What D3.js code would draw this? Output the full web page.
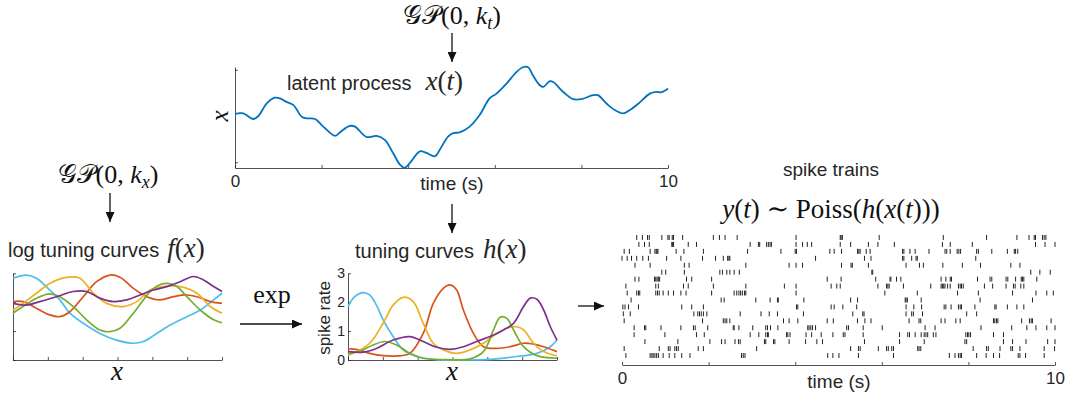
<!DOCTYPE html>
<html>
<head>
<meta charset="utf-8">
<script src="https://cdn.jsdelivr.net/npm/d3@7"></script>
<style>
body { margin: 0; background: #fff; }
svg text { font-family: "Liberation Sans", Arial, sans-serif; fill: #262626; }
svg text.math { font-family: "Liberation Serif", "DejaVu Serif", serif; fill: #111; }
.axis path, .axis line { stroke: #262626; stroke-width: 0.8; }
.axis text { font-family: "Liberation Sans", Arial, sans-serif; fill: #262626; }
</style>
</head>
<body>
<svg id="root" width="1068" height="393"></svg>
<script>
// latent process x(t)
const latentTime = [0,0.19,0.42,0.54,0.73,0.92,1.04,1.19,1.35,1.54,1.65,1.85,2.04,2.31,2.42,2.65,2.77,3.04,3.27,3.46,3.65,3.81,3.92,4.04,4.27,4.42,4.62,4.73,4.92,5.04,5.19,5.42,5.65,5.88,6.04,6.27,6.5,6.65,6.77,6.88,7.04,7.12,7.27,7.35,7.58,7.81,8.0,8.27,8.38,8.58,8.77,8.96,9.12,9.35,9.58,9.73,9.85,10];
const latentValue = [0.09,0.11,-0.13,0,0.54,0.79,0.76,0.61,0.47,-0.03,-0.10,-0.13,-0.46,-0.86,-0.71,-0.43,-0.46,-0.91,-0.86,-1.03,-1.6,-2.1,-2.24,-2.03,-1.53,-1.6,-1.74,-1.46,-0.89,-0.74,-0.71,-0.46,0.04,0.76,0.97,1.4,1.9,2.11,2.11,1.76,1.33,1.26,1.51,1.47,1.04,0.73,0.73,0.9,0.9,0.54,0.26,0.11,0.26,0.59,0.97,1.04,1.03,1.19];

// log tuning curves f(x), [x, f]
const logCyan = [[0,2.83],[0.064,2.94],[0.112,2.83],[0.176,2.42],[0.224,2.08],[0.272,1.62],[0.336,1.27],[0.416,0.92],[0.496,0.69],[0.576,0.58],[0.624,0.64],[0.688,0.92],[0.752,1.21],[0.832,1.5],[0.896,1.73],[0.96,2.08],[1,2.31]];
const logYellow = [[0,1.73],[0.048,1.96],[0.112,2.31],[0.176,2.65],[0.256,2.86],[0.32,2.83],[0.384,2.31],[0.448,1.96],[0.528,1.85],[0.592,2.02],[0.656,2.42],[0.72,2.54],[0.8,2.54],[0.88,2.31],[0.944,1.85],[1,1.62]];
const logRed = [[0,2.02],[0.048,2.02],[0.112,1.79],[0.176,1.56],[0.224,1.5],[0.272,1.67],[0.336,2.19],[0.4,2.71],[0.464,2.94],[0.512,2.86],[0.576,2.48],[0.64,2.19],[0.704,2.08],[0.768,2.19],[0.832,2.25],[0.88,2.19],[0.944,2.02],[1,1.96]];
const logGreen = [[0,1.62],[0.048,1.85],[0.112,2.14],[0.176,2.29],[0.224,2.19],[0.288,1.85],[0.352,1.39],[0.416,1.04],[0.464,0.98],[0.512,1.1],[0.576,1.62],[0.624,2.08],[0.672,2.48],[0.736,2.65],[0.784,2.54],[0.832,2.19],[0.896,1.73],[0.96,1.39],[1,1.29]];
const logPurple = [[0,1.96],[0.064,1.9],[0.128,2.02],[0.208,2.19],[0.288,2.37],[0.352,2.37],[0.416,2.14],[0.48,2.02],[0.544,2.08],[0.608,2.25],[0.672,2.42],[0.736,2.54],[0.8,2.71],[0.864,2.89],[0.912,2.77],[0.96,2.54],[1,2.37]];

// tuning curves h(x), [x, spike rate]
const rateCyan = [[0,1.85],[0.032,2.19],[0.072,2.33],[0.104,2.25],[0.136,1.9],[0.168,1.39],[0.216,0.81],[0.264,0.35],[0.328,0.12],[0.424,0.01],[0.552,0.0],[0.68,0.02],[0.808,0.12],[0.904,0.23],[0.968,0.46],[1,0.69]];
const rateYellow = [[0,0.17],[0.04,0.29],[0.104,0.58],[0.168,1.27],[0.216,1.9],[0.264,2.17],[0.312,2.02],[0.36,1.27],[0.408,0.58],[0.456,0.35],[0.52,0.23],[0.584,0.35],[0.648,0.58],[0.712,0.92],[0.76,1.1],[0.808,1.15],[0.84,1.04],[0.888,0.58],[0.936,0.29],[1,0.14]];
const rateRed = [[0,0.38],[0.04,0.37],[0.104,0.23],[0.168,0.15],[0.232,0.14],[0.296,0.23],[0.36,0.92],[0.408,1.96],[0.456,2.48],[0.488,2.6],[0.52,2.42],[0.552,1.73],[0.6,0.92],[0.648,0.46],[0.712,0.4],[0.776,0.46],[0.84,0.58],[0.888,0.55],[0.936,0.46],[1,0.29]];
const rateGreen = [[0,0.21],[0.056,0.31],[0.12,0.52],[0.176,0.64],[0.232,0.52],[0.296,0.23],[0.36,0.06],[0.472,0.01],[0.584,0.04],[0.648,0.29],[0.696,1.04],[0.728,1.48],[0.76,1.44],[0.792,1.04],[0.84,0.46],[0.904,0.15],[1,0.06]];
const ratePurple = [[0,0.29],[0.072,0.27],[0.136,0.4],[0.216,0.69],[0.296,0.81],[0.36,0.64],[0.424,0.44],[0.488,0.37],[0.552,0.46],[0.616,0.64],[0.68,0.81],[0.744,1.04],[0.792,1.27],[0.84,1.85],[0.872,2.14],[0.904,2.1],[0.936,1.73],[0.968,1.15],[1,0.69]];

const curveColors = ["#4DBEEE", "#D95319", "#EDB120", "#77AC30", "#7E2F8E"];
const rateTicks = [0, 1, 2, 3];

// spike trains, one array of spike times (s) per neuron
const spikeTimes = [
  [0.34,0.47,0.59,0.63,0.92,1.06,1.09,1.16,1.19,1.40,2.11,2.25,2.38,2.66,4.02,5.04,5.06,5.09,5.94,7.42,8.42,9.12,9.40,9.52,9.55,9.71,9.75,9.79],
  [0.39,0.52,0.63,1.15,1.17,1.19,1.53,1.72,2.96,3.15,3.18,3.34,3.38,3.42,3.45,4.02,4.17,4.28,4.38,5.04,5.28,5.69,5.91,6.29,7.40,7.58,8.09,9.55,9.77,10.0],
  [0.05,0.17,0.65,0.76,0.79,0.81,0.83,1.25,1.43,1.88,2.90,3.67,4.00,4.03,4.80,4.90,5.07,5.44,5.47,5.50,5.64,5.73,6.48,6.51,6.65,6.77,7.09,7.46,7.50,7.58,7.74,7.78,7.82,8.19,8.23,8.54,8.90,9.06,9.09,9.14],
  [0.0,0.12,0.22,0.34,0.48,0.61,1.03,1.36,1.86,2.16,2.34,2.44,2.47,2.49,4.47,5.60,5.75,6.48,6.51,6.69,6.79,6.82,8.17],
  [0.30,0.65,1.44,1.55,2.86,3.86,4.02,4.17,5.07,5.29,5.32,5.69,6.56,6.87,6.96,7.41,7.86,8.28,8.98,9.19],
  [0.92,1.01,1.44,2.26,2.32,2.42,2.49,2.59,2.71,5.77,5.79,9.44,9.65,9.89],
  [0.30,0.39,0.75,0.78,0.81,0.84,0.87,1.49,1.61,2.07,4.74,5.06,5.86,6.19,6.21,6.34,6.44,7.37,7.48,7.58,7.61,8.21,8.50,8.54,8.87,8.91,9.09,9.22,9.25,9.28,9.58],
  [0.09,0.78,0.84,1.42,1.53,2.11,2.86,3.75,4.02,4.83,4.96,5.04,5.91,6.11,6.14,6.17,6.50,7.13,7.37,7.40,7.43,7.46,7.52,7.58,7.77,7.81,7.84,7.88,8.37,8.56,8.87,9.04,9.08,9.21,9.28],
  [0.12,0.34,0.38,0.41,0.78,0.82,0.86,0.95,1.07,1.19,1.36,1.48,2.07,2.59,2.65,2.70,2.74,2.78,2.83,2.86,4.02,6.07,6.82,7.75,8.23,9.02,9.56,9.81,9.96],
  [0.21,2.29,2.36,3.09,3.42,3.59,3.61,4.20,5.28,5.44,6.54,6.56,6.59,6.91,8.27,9.48],
  [0.02,0.07,0.15,0.38,1.38,1.61,1.88,4.03,4.06,4.83,4.90,5.10,5.42,6.56,6.74,6.92,7.44,7.48,7.60,7.77,7.81,7.84,8.15,8.61,8.64,8.90,9.12,9.28],
  [0.03,0.19,1.66,1.75,1.79,1.83,1.88,1.96,2.73,3.21,3.40,3.59,4.19,5.33,5.56,5.59,6.56,6.69,6.73,6.94,7.96,8.19],
  [0.05,1.86,2.34,2.38,2.42,2.49,3.73,3.86,4.06,4.74,4.88,5.44,5.61,5.75,6.63,6.86,6.90,7.37,7.46,7.71,7.81,8.58,8.61,8.65,8.68,9.23,9.41,9.45,9.48,9.91],
  [0.28,0.52,0.55,0.90,1.36,1.65,1.69,1.98,2.57,2.59,2.70,3.02,3.32,3.36,3.43,3.60,4.29,4.32,4.36,4.40,4.47,5.19,5.23,5.57,6.01,7.00,7.23,8.29,9.00,9.35,9.56,9.81,10.0],
  [0.28,0.99,1.72,1.90,2.96,3.16,3.32,3.36,3.38,3.80,3.83,3.88,4.25,4.38,4.60,4.87,5.11,5.15,5.57,6.41,6.60,6.64,6.77,6.91,6.98,7.02,7.06,7.19,7.25,7.94,7.98,8.01,8.05,8.58,8.81],
  [0.53,1.29,2.03,2.30,2.38,2.61,2.69,2.73,3.29,3.32,3.50,3.53,3.86,4.24,4.50,4.63,5.60,6.41,6.98,7.92,7.96,8.81,9.02,9.33,9.83,10.0],
  [0.05,0.86,1.07,1.11,1.22,1.26,1.30,1.76,1.88,3.11,5.28,5.46,5.50,5.92,6.11,6.15,6.23,6.27,6.83,6.86,6.90,8.11,8.42,8.46,8.73,8.98,9.02,9.19,9.75,9.99],
  [0.09,0.65,0.69,0.72,0.76,0.80,0.84,0.95,1.09,1.22,1.38,1.57,2.76,2.80,2.84,4.75,4.87,5.01,5.46,6.27,7.56,7.69,7.77,7.81,7.84,8.19,8.41,8.58,8.72,9.15,9.19,9.32,9.75]
];
const timeTicks = [0, 2, 4, 6, 8, 10];

const svg = d3.select('#root');

// arrow head marker
svg.append('defs').append('marker')
    .attr('id', 'head')
    .attr('markerUnits', 'userSpaceOnUse')
    .attr('markerWidth', 10).attr('markerHeight', 9)
    .attr('refX', 10).attr('refY', 4.5)
    .attr('orient', 'auto')
    .append('path')
    .attr('d', 'M0,0 L10,4.5 L0,9 Z')
    .attr('fill', '#111');

function arrow(x1, y1, x2, y2) {
    svg.append('line')
        .attr('x1', x1).attr('y1', y1).attr('x2', x2).attr('y2', y2)
        .attr('stroke', '#111').attr('stroke-width', 1.3)
        .attr('marker-end', 'url(#head)');
}

function gp(x, y, sub) {
    const t = svg.append('text').attr('class', 'math')
        .attr('x', x).attr('y', y)
        .attr('text-anchor', 'middle')
        .style('font-size', '26px');
    t.append('tspan').text('\u{1D4A2}\u{1D4AB}(0, ');
    t.append('tspan').style('font-style', 'italic').text('k');
    t.append('tspan').style('font-style', 'italic').style('font-size', '18px').attr('dy', 5).text(sub);
    t.append('tspan').attr('dy', -5).text(')');
}

const fmtEnds = d => (d === 0 || d === 10) ? d : '';
const mathFont = '"Liberation Serif", "DejaVu Serif", serif';

// ---------- top: latent process ----------
const xTop = d3.scaleLinear().domain([0, 10]).range([235, 668]);
const yTop = d3.scaleLinear().domain([-2.25, 2.12]).range([168, 67]);

svg.append('g').attr('class', 'axis')
    .attr('transform', 'translate(0,168)')
    .call(d3.axisBottom(xTop).tickValues(timeTicks).tickSizeInner(-3).tickSizeOuter(0).tickPadding(7).tickFormat(fmtEnds))
    .selectAll('text').style('font-size', '17px');
svg.append('g').attr('class', 'axis')
    .attr('transform', 'translate(235,0)')
    .call(d3.axisLeft(yTop).tickValues([-2, 2]).tickSizeInner(-3).tickSizeOuter(0).tickFormat(''));

svg.append('path')
    .datum(d3.zip(latentTime, latentValue))
    .attr('fill', 'none').attr('stroke', '#0072BD').attr('stroke-width', 1.8)
    .attr('d', d3.line().x(d => xTop(d[0])).y(d => yTop(d[1])).curve(d3.curveCatmullRom));

svg.append('text').attr('x', 452).attr('y', 190).attr('text-anchor', 'middle')
    .style('font-size', '19px').text('time (s)');
svg.append('text').attr('class', 'math')
    .attr('transform', 'translate(228,116) rotate(-90)')
    .attr('text-anchor', 'middle')
    .style('font-size', '25px').style('font-style', 'italic').text('x');

const tTitle = svg.append('text').attr('x', 287).attr('y', 90).style('font-size', '20px');
tTitle.append('tspan').text('latent process');
tTitle.append('tspan').attr('dx', 14)
    .style('font-family', mathFont).style('font-size', '27px')
    .html('<tspan font-style="italic">x</tspan>(<tspan font-style="italic">t</tspan>)');

gp(452, 24, 't');
arrow(452, 33, 452, 62);
arrow(452, 204, 452, 233);

// ---------- left: log tuning curves ----------
const xLeft = d3.scaleLinear().domain([0, 1]).range([13, 222]);
const yLeft = d3.scaleLinear().domain([0, 3]).range([360, 273.3]);
const xGridTicks = d3.range(7).map(i => i / 6);

svg.append('g').attr('class', 'axis')
    .attr('transform', 'translate(0,360)')
    .call(d3.axisBottom(xLeft).tickValues(xGridTicks).tickSizeInner(-3).tickSizeOuter(0).tickFormat(''));
svg.append('g').attr('class', 'axis')
    .attr('transform', 'translate(13,0)')
    .call(d3.axisLeft(yLeft).tickValues(rateTicks).tickSizeInner(-3).tickSizeOuter(0).tickFormat(''));

const lineLeft = d3.line().x(d => xLeft(d[0])).y(d => yLeft(d[1])).curve(d3.curveCatmullRom);
[logCyan, logRed, logYellow, logGreen, logPurple].forEach((c, i) => {
    svg.append('path').datum(c)
        .attr('fill', 'none').attr('stroke', curveColors[i]).attr('stroke-width', 1.7)
        .attr('d', lineLeft);
});

svg.append('text').attr('class', 'math').attr('x', 117).attr('y', 380)
    .attr('text-anchor', 'middle').style('font-size', '27px').style('font-style', 'italic').text('x');

const lTitle = svg.append('text').attr('x', 8).attr('y', 257).style('font-size', '20px');
lTitle.append('tspan').text('log tuning curves');
lTitle.append('tspan').attr('dx', 8)
    .style('font-family', mathFont).style('font-size', '27px')
    .html('<tspan font-style="italic">f</tspan>(<tspan font-style="italic">x</tspan>)');

gp(108, 183, 'x');
arrow(110, 193, 110, 222);

// exp arrow
svg.append('text').attr('class', 'math').attr('x', 272).attr('y', 303)
    .attr('text-anchor', 'middle').style('font-size', '26px').text('exp');
arrow(240, 324, 302, 324);

// ---------- middle: tuning curves ----------
const xMid = d3.scaleLinear().domain([0, 1]).range([348, 557]);
const yMid = d3.scaleLinear().domain([0, 3]).range([360, 273.3]);

svg.append('g').attr('class', 'axis')
    .attr('transform', 'translate(0,360)')
    .call(d3.axisBottom(xMid).tickValues(xGridTicks).tickSizeInner(-3).tickSizeOuter(0).tickFormat(''));
svg.append('g').attr('class', 'axis')
    .attr('transform', 'translate(348,0)')
    .call(d3.axisLeft(yMid).tickValues(rateTicks).tickSizeInner(-3).tickSizeOuter(0).tickPadding(3).tickFormat(d3.format('d')))
    .selectAll('text').style('font-size', '14px');

const lineMid = d3.line().x(d => xMid(d[0])).y(d => yMid(d[1])).curve(d3.curveCatmullRom);
[rateCyan, rateRed, rateYellow, rateGreen, ratePurple].forEach((c, i) => {
    svg.append('path').datum(c)
        .attr('fill', 'none').attr('stroke', curveColors[i]).attr('stroke-width', 1.7)
        .attr('d', lineMid);
});

svg.append('text')
    .attr('transform', 'translate(330,318) rotate(-90)')
    .attr('text-anchor', 'middle').style('font-size', '17px').text('spike rate');
svg.append('text').attr('class', 'math').attr('x', 452).attr('y', 380)
    .attr('text-anchor', 'middle').style('font-size', '27px').style('font-style', 'italic').text('x');

const mTitle = svg.append('text').attr('x', 355).attr('y', 258).style('font-size', '20px');
mTitle.append('tspan').text('tuning curves');
mTitle.append('tspan').attr('dx', 9)
    .style('font-family', mathFont).style('font-size', '27px')
    .html('<tspan font-style="italic">h</tspan>(<tspan font-style="italic">x</tspan>)');

arrow(578, 306, 604, 306);

// ---------- right: spike trains ----------
const xRas = d3.scaleLinear().domain([0, 10]).range([622, 1055]);
const yRas = d3.scaleBand().domain(d3.range(spikeTimes.length)).range([234, 359]);

svg.append('g').attr('class', 'axis')
    .attr('transform', 'translate(0,365)')
    .call(d3.axisBottom(xRas).tickValues(timeTicks).tickSizeInner(-3).tickSizeOuter(0).tickPadding(7).tickFormat(fmtEnds))
    .selectAll('text').style('font-size', '17px');

const rows = svg.append('g').selectAll('g')
    .data(spikeTimes)
    .enter()
    .append('g')
        .attr('transform', (d, i) => `translate(0, ${yRas(i)})`);
rows.selectAll('line')
    .data(d => d)
    .enter()
    .append('line')
        .attr('x1', d => xRas(d)).attr('x2', d => xRas(d))
        .attr('y1', 1).attr('y2', yRas.bandwidth() - 1)
        .attr('stroke', '#222').attr('stroke-width', 1);

svg.append('text').attr('x', 839).attr('y', 388).attr('text-anchor', 'middle')
    .style('font-size', '19px').text('time (s)');
svg.append('text').attr('x', 831).attr('y', 176).attr('text-anchor', 'middle')
    .style('font-size', '19px').text('spike trains');
svg.append('text').attr('class', 'math').attr('x', 831).attr('y', 218)
    .attr('text-anchor', 'middle').style('font-size', '27px')
    .html('<tspan font-style="italic">y</tspan>(<tspan font-style="italic">t</tspan>) \u223C Poiss(<tspan font-style="italic">h</tspan>(<tspan font-style="italic">x</tspan>(<tspan font-style="italic">t</tspan>)))');
</script>
</body>
</html>
